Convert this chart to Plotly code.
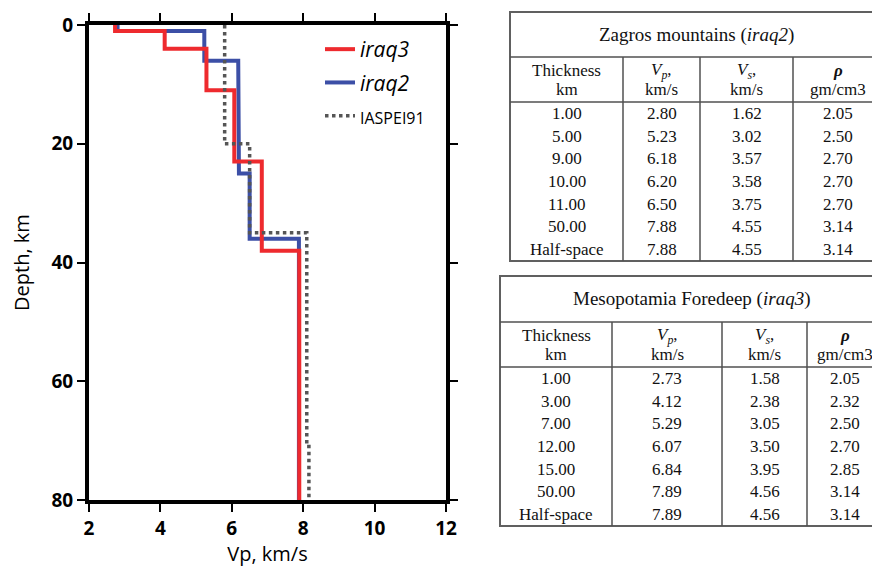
import plotly.graph_objects as go

# ---------------- data ----------------
x_ticks = [2, 4, 6, 8, 10, 12]
y_ticks = [0, 20, 40, 60, 80]
depth_max = 80

# Zagros mountains (iraq2)
zagros_thk = [1.00, 5.00, 9.00, 10.00, 11.00, 50.00]
zagros_vp = [2.80, 5.23, 6.18, 6.20, 6.50, 7.88, 7.88]
zagros_vs = [1.62, 3.02, 3.57, 3.58, 3.75, 4.55, 4.55]
zagros_rho = [2.05, 2.50, 2.70, 2.70, 2.70, 3.14, 3.14]

# Mesopotamia Foredeep (iraq3)
meso_thk = [1.00, 3.00, 7.00, 12.00, 15.00, 50.00]
meso_vp = [2.73, 4.12, 5.29, 6.07, 6.84, 7.89, 7.89]
meso_vs = [1.58, 2.38, 3.05, 3.50, 3.95, 4.56, 4.56]
meso_rho = [2.05, 2.32, 2.50, 2.70, 2.85, 3.14, 3.14]

# IASPEI91 reference (layer tops, Vp)
iasp_top = [0, 20, 35, 71]
iasp_vp = [5.80, 6.50, 8.10, 8.16]

header_l1 = ["Thickness", "<i>V<sub>p</sub></i>,", "<i>V<sub>s</sub></i>,", "<i><b>ρ</b></i>"]
header_l2 = ["km", "km/s", "km/s", "gm/cm3"]


def layer_tops(thk):
    tops = [0.0]
    for t in thk:
        tops.append(tops[-1] + t)
    return tops


def step_profile(tops, vps, bottom):
    xs, ys = [], []
    for i, v in enumerate(vps):
        top = tops[i]
        bot = tops[i + 1] if i + 1 < len(tops) else bottom
        xs += [v, v]
        ys += [top, bot]
    return xs, ys


fig = go.Figure()

x2, y2 = step_profile(layer_tops(zagros_thk), zagros_vp, depth_max)
x3, y3 = step_profile(layer_tops(meso_thk), meso_vp, depth_max)
xi, yi = step_profile(iasp_top, iasp_vp, depth_max)

fig.add_trace(go.Scatter(x=x2, y=y2, mode="lines", name="<i>iraq2</i>",
                         line=dict(color="#3c4fa6", width=4), legendrank=2,
                         legendgroup="b"))
fig.add_trace(go.Scatter(x=x3, y=y3, mode="lines", name="<i>iraq3</i>",
                         line=dict(color="#ee2a2e", width=4), legendrank=1,
                         legendgroup="a"))
fig.add_trace(go.Scatter(x=xi, y=yi, mode="lines",
                         name="<span style='font-size:16px'>IASPEI91</span>",
                         line=dict(color="#555555", width=3.5, dash="dot"),
                         legendrank=3, legendgroup="c"))

# page body has an 8px margin; the figure fills the rest of the window
OFF = 8
W, H = 880 - OFF, 567 - OFF


def px(x):
    return (x - OFF) / W


def py(y):
    return 1 - (y - OFF) / H


axis_common = dict(showline=True, linewidth=4, linecolor="black", mirror="ticks",
                   ticks="outside", ticklen=8, tickwidth=2, tickcolor="black",
                   showgrid=False, zeroline=False, automargin=False,
                   tickfont=dict(family="Open Sans", size=19, color="black", weight="bold"))

fig.update_xaxes(domain=[px(89), px(446)], range=[2, 12], tickvals=x_ticks,
                 title=dict(text="Vp, km/s", font=dict(family="Open Sans", size=20, color="black"),
                            standoff=0),
                 **axis_common)
fig.update_yaxes(domain=[py(500), py(25)], range=[depth_max, 0], tickvals=y_ticks,
                 title=dict(text="Depth, km", font=dict(family="Open Sans", size=20, color="black"),
                            standoff=18),
                 **axis_common)

# ---------------- tables ----------------
shapes = []
annotations = []
LC = "#505050"
FONT = dict(family="Liberation Serif", size=17, color="#111111")
TFONT = dict(family="Liberation Serif", size=19, color="#111111")


def add_table(left, top, title_bot, head_bot, bottom, col_x, right, title, thk, vp, vs, rho):
    shapes.append(dict(type="rect", xref="paper", yref="paper",
                       x0=px(left), x1=px(right), y0=py(bottom), y1=py(top),
                       line=dict(color="#606060", width=2)))
    for yy in (title_bot, head_bot):
        shapes.append(dict(type="line", xref="paper", yref="paper",
                           x0=px(left), x1=px(right), y0=py(yy), y1=py(yy),
                           line=dict(color=LC, width=1.5)))
    for xx in col_x[1:]:
        shapes.append(dict(type="line", xref="paper", yref="paper",
                           x0=px(xx), x1=px(xx), y0=py(bottom), y1=py(title_bot),
                           line=dict(color=LC, width=1.5)))
    annotations.append(dict(text=title, xref="paper", yref="paper",
                            x=px((left + right) / 2), y=py((top + title_bot) / 2),
                            showarrow=False, font=TFONT, xanchor="center", yanchor="middle"))
    edges = col_x + [right]
    centers = [(edges[i] + edges[i + 1]) / 2 for i in range(4)]
    hh = head_bot - title_bot
    for i in range(4):
        annotations.append(dict(text=header_l1[i], xref="paper", yref="paper",
                                x=px(centers[i]), y=py(title_bot + hh * 0.3),
                                showarrow=False, font=FONT, xanchor="center", yanchor="middle"))
        annotations.append(dict(text=header_l2[i], xref="paper", yref="paper",
                                x=px(centers[i]), y=py(title_bot + hh * 0.72),
                                showarrow=False, font=FONT, xanchor="center", yanchor="middle"))
    thk_lbl = ["%.2f" % t for t in thk] + ["Half-space"]
    cols = [thk_lbl, ["%.2f" % v for v in vp], ["%.2f" % v for v in vs], ["%.2f" % v for v in rho]]
    n = len(thk_lbl)
    rh = (bottom - head_bot) / n
    for c in range(4):
        for r in range(n):
            annotations.append(dict(text=cols[c][r], xref="paper", yref="paper",
                                    x=px(centers[c]), y=py(head_bot + rh * (r + 0.5)),
                                    showarrow=False, font=FONT, xanchor="center", yanchor="middle"))


add_table(510, 12, 57, 102, 261, [510, 623, 700, 793], 882,
          "Zagros mountains (<i>iraq2</i>)", zagros_thk, zagros_vp, zagros_vs, zagros_rho)
add_table(500, 276, 322, 367, 526, [500, 612, 722, 807], 882,
          "Mesopotamia Foredeep (<i>iraq3</i>)", meso_thk, meso_vp, meso_vs, meso_rho)

fig.update_layout(
    width=W, height=H, margin=dict(l=0, r=0, t=0, b=0),
    plot_bgcolor="white", paper_bgcolor="white",
    shapes=shapes, annotations=annotations,
    legend=dict(x=px(320), y=py(29), xanchor="left", yanchor="top",
                bgcolor="rgba(0,0,0,0)", tracegroupgap=3,
                font=dict(family="Open Sans", size=21, color="black")),
)

fig.write_html("out.html")
